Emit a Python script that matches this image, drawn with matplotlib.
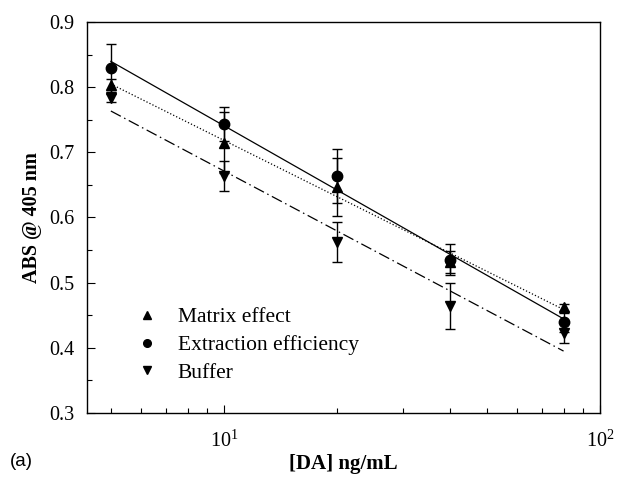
import numpy as np
import matplotlib
matplotlib.use("Agg")
import matplotlib.pyplot as plt
from matplotlib.lines import Line2D
from matplotlib.ticker import LogLocator, LogFormatterSciNotation, MultipleLocator, NullFormatter

plt.rcParams['font.family'] = 'Liberation Serif'
plt.rcParams['mathtext.fontset'] = 'custom'
plt.rcParams['mathtext.rm'] = 'Liberation Serif'

# DA concentration (ng/mL)
conc = [5, 10, 20, 40, 80]

# absorbance at 405 nm, mean and error
matrix_abs = [0.803, 0.715, 0.647, 0.532, 0.462]
matrix_err = [0.010, 0.047, 0.045, 0.017, 0.006]
extract_abs = [0.829, 0.743, 0.664, 0.535, 0.439]
extract_err = [0.037, 0.026, 0.041, 0.024, 0.015]
buffer_abs = [0.784, 0.663, 0.562, 0.464, 0.423]
buffer_err = [0.006, 0.023, 0.031, 0.035, 0.015]

labels = ['Matrix effect', 'Extraction efficiency', 'Buffer']

fig = plt.figure(figsize=(6.18, 4.86), dpi=100)
ax = fig.add_axes([87 / 618, 1 - 413 / 486, 513 / 618, 391 / 486])

series = [
    (matrix_abs, matrix_err, '^', ':'),
    (extract_abs, extract_err, 'o', '-'),
    (buffer_abs, buffer_err, 'v', (0, (9, 3, 1.2, 3))),
]

x = np.array(conc, dtype=float)
lx = np.log10(x)
handles = []
for (y, err, mk, ls), lab in zip(series, labels):
    # log-linear regression line
    slope, icpt = np.polyfit(lx, y, 1)
    xf = np.array([x[0], x[-1]])
    ax.plot(xf, icpt + slope * np.log10(xf), color='black', lw=0.9, linestyle=ls)
    ax.errorbar(x, y, yerr=err, fmt=mk, color='black', ms=7.5 if mk == 'o' else 7,
                ecolor='black', elinewidth=1.0, capsize=3.5, capthick=1.0)
    handles.append(Line2D([], [], marker=mk, color='black', linestyle='none', ms=5.5))

ax.set_xscale('log')
ax.set_xlim(4.32, 100)
ax.set_ylim(0.3, 0.9)

ax.xaxis.set_major_locator(LogLocator(base=10))
ax.xaxis.set_major_formatter(LogFormatterSciNotation())
ax.xaxis.set_minor_locator(LogLocator(base=10, subs=np.arange(2, 10)))
ax.xaxis.set_minor_formatter(NullFormatter())
ax.yaxis.set_major_locator(MultipleLocator(0.1))
ax.yaxis.set_minor_locator(MultipleLocator(0.05))
ax.yaxis.set_major_formatter(matplotlib.ticker.FormatStrFormatter('%.1f'))

ax.tick_params(which='both', direction='in', top=False, right=False, labelsize=14.5, width=0.8)
ax.tick_params(which='major', length=6)
ax.tick_params(which='minor', length=3.5)
ax.tick_params(axis='x', pad=13)
ax.tick_params(axis='y', pad=9)
for sp in ax.spines.values():
    sp.set_linewidth(1.0)

ax.set_xlabel('[DA] ng/mL', fontsize=15, fontweight='bold', labelpad=1)
ax.set_ylabel('ABS @ 405 nm', fontsize=14.5, fontweight='bold', labelpad=5)

ax.legend(handles, labels, loc='upper left', bbox_to_anchor=(0.058, 0.32), frameon=False,
          fontsize=15.5, handlelength=1.0, handletextpad=0.94, labelspacing=0.36)

fig.text(10 / 618, 1 - 461 / 486, '(a)', fontsize=13.5, family='Liberation Sans', va='center')

fig.savefig('out.png', dpi=100)
